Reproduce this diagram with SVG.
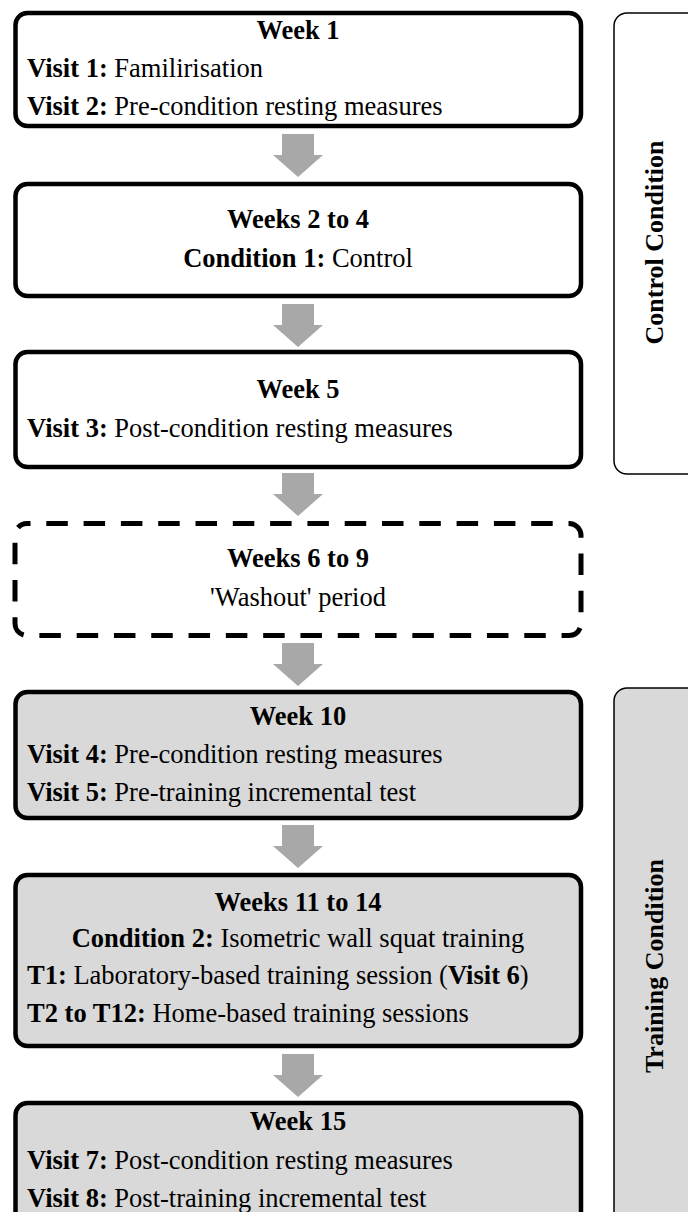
<svg xmlns="http://www.w3.org/2000/svg" width="688" height="1212" viewBox="0 0 688 1212">
<style>
  text { font-family: "Liberation Serif", "Times New Roman", serif; font-size: 26.5px; fill: #000; }
  .b { font-weight: bold; }
  .c { text-anchor: middle; }
  .side { font-size: 26px; }
  .box { fill: #fff; stroke: #000; stroke-width: 4.5; }
  .gbox { fill: #d9d9d9; stroke: #000; stroke-width: 4.5; }
  .dbox { fill: #fff; stroke: #000; stroke-width: 5; stroke-dasharray: 21.5 15.8; stroke-dashoffset: 18; }
  .panel { stroke: #000; stroke-width: 1.5; }
  .arrow { fill: #a8a8a8; }
</style>
<defs>
  <path id="arr" d="M-16,0 H16 V21 H25 L0,43 L-25,21 H-16 Z"/>
</defs>

<g id="panel-control">
  <rect class="panel" x="614" y="13" width="110" height="461" rx="13" fill="#fff"/>
  <text class="b c side" transform="translate(663,242.5) rotate(-90)">Control Condition</text>
</g>
<g id="panel-training">
  <rect class="panel" x="614" y="688" width="110" height="560" rx="13" fill="#d9d9d9"/>
  <text class="b c side" transform="translate(663,966) rotate(-90)">Training Condition</text>
</g>

<g id="week1">
  <rect class="box" x="15.5" y="13" width="565.5" height="113" rx="12"/>
  <text class="b c" x="298" y="39">Week 1</text>
  <text x="27" y="77"><tspan class="b">Visit 1:</tspan> Familirisation</text>
  <text x="27" y="115"><tspan class="b">Visit 2:</tspan> Pre-condition resting measures</text>
</g>

<g id="weeks2to4">
  <rect class="box" x="15.5" y="184" width="565.5" height="112" rx="12"/>
  <text class="b c" x="298" y="228">Weeks 2 to 4</text>
  <text class="c" x="298" y="267"><tspan class="b">Condition 1:</tspan> Control</text>
</g>

<g id="week5">
  <rect class="box" x="15.5" y="352" width="565.5" height="115" rx="12"/>
  <text class="b c" x="298" y="398">Week 5</text>
  <text x="27" y="437"><tspan class="b">Visit 3:</tspan> Post-condition resting measures</text>
</g>

<g id="weeks6to9">
  <rect class="dbox" x="15" y="523.5" width="566" height="112" rx="12"/>
  <text class="b c" x="298" y="567">Weeks 6 to 9</text>
  <text class="c" x="298" y="606">'Washout' period</text>
</g>

<g id="week10">
  <rect class="gbox" x="15.5" y="692" width="565.5" height="126" rx="12"/>
  <text class="b c" x="298" y="725">Week 10</text>
  <text x="27" y="763"><tspan class="b">Visit 4:</tspan> Pre-condition resting measures</text>
  <text x="27" y="801"><tspan class="b">Visit 5:</tspan> Pre-training incremental test</text>
</g>

<g id="weeks11to14">
  <rect class="gbox" x="15.5" y="875" width="565.5" height="171" rx="12"/>
  <text class="b c" x="298" y="911">Weeks 11 to 14</text>
  <text class="c" x="298" y="947"><tspan class="b">Condition 2:</tspan> Isometric wall squat training</text>
  <text x="27" y="984"><tspan class="b">T1:</tspan> Laboratory-based training session (<tspan class="b">Visit 6</tspan>)</text>
  <text x="27" y="1022"><tspan class="b">T2 to T12:</tspan> Home-based training sessions</text>
</g>

<g id="week15">
  <rect class="gbox" x="15.5" y="1103" width="565.5" height="150" rx="12"/>
  <text class="b c" x="298" y="1130">Week 15</text>
  <text x="27" y="1169"><tspan class="b">Visit 7:</tspan> Post-condition resting measures</text>
  <text x="27" y="1207"><tspan class="b">Visit 8:</tspan> Post-training incremental test</text>
</g>

<g id="connectors">
  <use class="arrow" href="#arr" x="298" y="134"/>
  <use class="arrow" href="#arr" x="298" y="304"/>
  <use class="arrow" href="#arr" x="298" y="473"/>
  <use class="arrow" href="#arr" x="298" y="643"/>
  <use class="arrow" href="#arr" x="298" y="825"/>
  <use class="arrow" href="#arr" x="298" y="1054"/>
</g>
</svg>
